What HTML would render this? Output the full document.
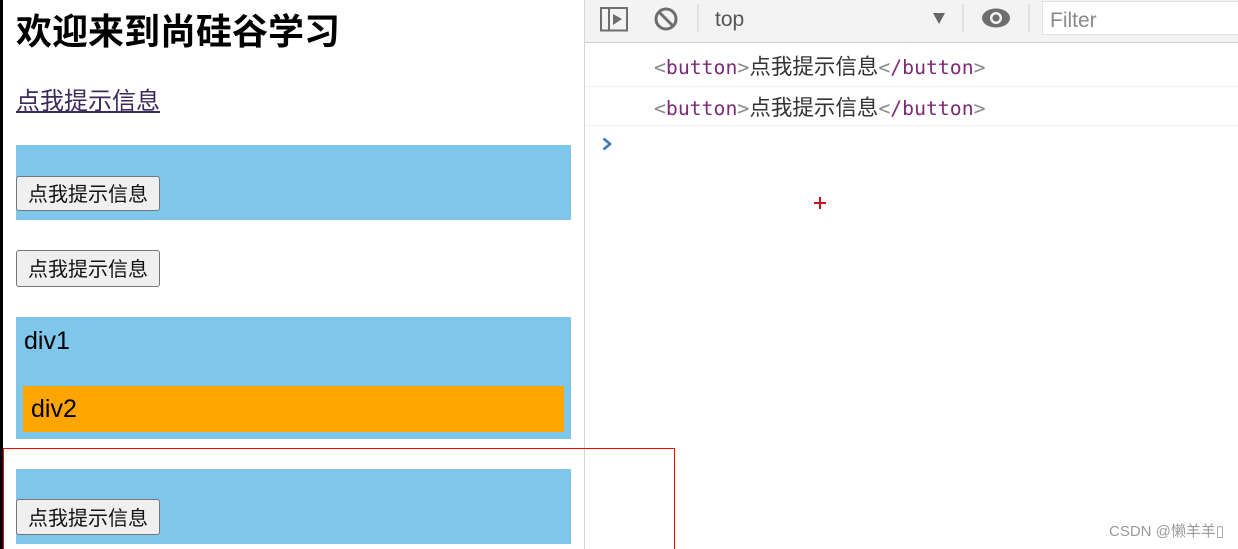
<!DOCTYPE html>
<html lang="zh">
<head>
<meta charset="utf-8">
<style>
html,body{margin:0;padding:0;background:#fff;}
body{position:relative;width:1238px;height:549px;overflow:hidden;font-family:"Liberation Sans","Noto Sans CJK SC",sans-serif;color:#000;}
.a{position:absolute;white-space:nowrap;}
.blue{position:absolute;left:16px;width:555px;background:#7fc6eb;}
.btn{position:absolute;left:16px;width:144px;height:35px;box-sizing:border-box;border:1px solid #767676;border-radius:3px;background:#efefef;font-size:20px;line-height:35px;text-align:center;color:#111;}
.log{position:absolute;left:654px;font-family:"DejaVu Sans Mono",monospace;font-size:19.8px;line-height:24px;white-space:nowrap;color:#888;}
.log b{font-weight:normal;color:#7b2a78;}
.log i{font-style:normal;font-family:"Liberation Sans","Noto Sans CJK SC",sans-serif;font-size:21.5px;color:#333;}
</style>
</head>
<body>
<div class="a" style="left:0;top:0;width:3px;height:549px;background:#000;"></div>

<div class="a" style="left:16px;top:9px;font-size:36px;line-height:46px;font-weight:bold;">欢迎来到尚硅谷学习</div>
<div class="a" style="left:16px;top:85px;font-size:24px;line-height:34px;color:#3c2a5a;text-decoration:underline;">点我提示信息</div>

<div class="blue" style="top:145px;height:75px;"></div>
<div class="btn" style="top:176px;line-height:37px;">点我提示信息</div>
<div class="btn" style="top:250px;height:37px;line-height:38px;">点我提示信息</div>

<div class="blue" style="top:317px;height:122px;"></div>
<div class="a" style="left:24px;top:326px;font-size:25px;line-height:30px;">div1</div>
<div class="a" style="left:23px;top:386px;width:541px;height:46px;background:#ffa500;"></div>
<div class="a" style="left:31px;top:394px;font-size:25px;line-height:30px;">div2</div>

<div class="blue" style="top:469px;height:75px;"></div>
<div class="btn" style="top:499px;height:36px;line-height:38px;">点我提示信息</div>

<div class="a" style="left:584px;top:0;width:1px;height:549px;background:#d6d6d6;"></div>

<div class="a" style="left:585px;top:0;width:653px;height:42px;background:#f3f3f3;border-bottom:1px solid #ccc;"></div>
<svg class="a" style="left:585px;top:0;" width="653" height="42" viewBox="0 0 653 42">
  <rect x="16" y="8" width="26" height="22.5" fill="none" stroke="#6e6e6e" stroke-width="2"/>
  <line x1="24" y1="8" x2="24" y2="30" stroke="#6e6e6e" stroke-width="2"/>
  <polygon points="28,14 37,19 28,25" fill="#6e6e6e"/>
  <circle cx="81" cy="19" r="10" fill="none" stroke="#6e6e6e" stroke-width="3"/>
  <line x1="74" y1="12" x2="88" y2="26" stroke="#6e6e6e" stroke-width="3"/>
  <line x1="113" y1="4" x2="113" y2="32" stroke="#ccc" stroke-width="1"/>
  <polygon points="348,13 360,13 354,24" fill="#666"/>
  <line x1="378" y1="4" x2="378" y2="32" stroke="#ccc" stroke-width="1"/>
  <ellipse cx="411" cy="18" rx="14" ry="9.5" fill="#6e6e6e"/>
  <circle cx="411" cy="18" r="6" fill="#f3f3f3"/>
  <circle cx="411" cy="18" r="3.6" fill="#6e6e6e"/>
  <line x1="444" y1="4" x2="444" y2="32" stroke="#ccc" stroke-width="1"/>
</svg>
<div class="a" style="left:715px;top:6px;font-size:21px;line-height:28px;color:#555;">top</div>
<div class="a" style="left:1042px;top:1px;width:196px;height:34px;box-sizing:border-box;background:#fff;border:1px solid #e2e2e2;border-right:0;"></div>
<div class="a" style="left:1050px;top:7px;font-size:21px;line-height:28px;color:#8a8a8a;">Filter</div>

<div class="log" style="top:55px;">&lt;<b>button</b>&gt;<i>点我提示信息</i>&lt;<b>/button</b>&gt;</div>
<div class="a" style="left:585px;top:86px;width:653px;height:1px;background:#f0f0f0;"></div>
<div class="log" style="top:96px;">&lt;<b>button</b>&gt;<i>点我提示信息</i>&lt;<b>/button</b>&gt;</div>
<div class="a" style="left:585px;top:125px;width:653px;height:1px;background:#f0f0f0;"></div>

<svg class="a" style="left:600px;top:136px;" width="16" height="16" viewBox="0 0 16 16">
  <polyline points="3.5,2.5 10,8 3.5,13.5" fill="none" stroke="#3b78c2" stroke-width="2.6"/>
</svg>

<div class="a" style="left:814px;top:202px;width:12px;height:2px;background:#c8141c;"></div>
<div class="a" style="left:819px;top:197px;width:2px;height:12px;background:#c8141c;"></div>

<div class="a" style="left:3px;top:448px;width:672px;height:101px;box-sizing:border-box;border-top:1px solid #f00;border-right:1px solid #f00;border-left:1px solid #f00;"></div>

<div class="a" style="left:1109px;top:523px;font-size:15px;line-height:18px;color:#9a9a9a;">CSDN @懒羊羊▯</div>
</body>
</html>
